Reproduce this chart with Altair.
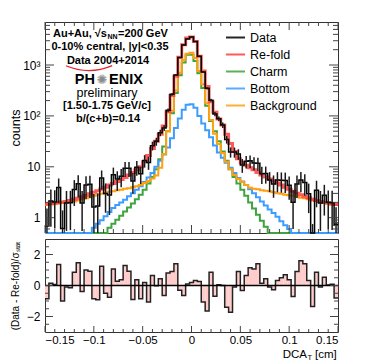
import altair as alt
import numpy as np
import pandas as pd

# ---------------- data ----------------
N_BINS = 75
X_MIN, X_MAX = -0.15, 0.15

data_counts = [0.69, 2.12, 2.03, 3.91, 0.61, 1.95, 1.97, 3.59, 4.66, 1.94,
               4.41, 4.53, 1.63, 1.70, 6.01, 2.98, 2.80, 6.99, 5.76, 6.50,
               9.37, 9.34, 5.25, 9.80, 7.28, 13.3, 12.2, 26.0, 31.6, 46.5,
               57.9, 128.8, 265, 637, 1402, 2479, 3242, 3560, 2901, 1489,
               730, 348, 203, 109, 87.5, 66.0, 34.4, 19.6, 19.5, 17.9,
               10.9, 12.8, 13.1, 11.9, 11.7, 7.3, 7.39, 5.51, 4.61, 5.49,
               5.42, 5.36, 4.33, 2.02, 4.58, 5.51, 4.90, 2.95, 0.25, 3.46,
               1.95, 2.76, 2.01, 1.97, 0.74]
data_err = [0.83, 1.46, 1.42, 1.98, 0.78, 1.40, 1.40, 1.89, 2.16, 1.39,
            2.10, 2.13, 1.28, 1.30, 2.45, 1.73, 1.67, 2.64, 2.40, 2.55,
            3.06, 3.06, 2.29, 3.13, 2.70, 3.65, 3.49, 5.10, 5.62, 6.82,
            7.61, 11.3, 16.3, 25.2, 37.4, 49.8, 56.9, 59.7, 53.9, 38.6,
            27.0, 18.7, 14.2, 10.4, 9.35, 8.12, 5.87, 4.43, 4.42, 4.23,
            3.30, 3.58, 3.62, 3.45, 3.42, 2.70, 2.72, 2.35, 2.15, 2.34,
            2.33, 2.32, 2.08, 1.42, 2.14, 2.35, 2.21, 1.72, 0.50, 1.86,
            1.40, 1.66, 1.42, 1.40, 0.86]
# log10 of the model curves (None = empty bin)
refold_log = [0.27, 0.28, 0.29, 0.30, 0.31, 0.32, 0.34, 0.36, 0.38, 0.41,
              0.44, 0.47, 0.50, 0.53, 0.56, 0.60, 0.64, 0.67, 0.71, 0.75,
              0.79, 0.84, 0.89, 0.94, 1.00, 1.10, 1.22, 1.36, 1.50, 1.64,
              1.80, 2.08, 2.40, 2.78, 3.15, 3.40, 3.53, 3.55, 3.46, 3.17,
              2.88, 2.58, 2.28, 2.07, 1.94, 1.82, 1.64, 1.46, 1.30, 1.16,
              1.08, 1.03, 0.98, 0.94, 0.89, 0.84, 0.80, 0.76, 0.72, 0.68,
              0.64, 0.60, 0.56, 0.52, 0.48, 0.45, 0.42, 0.39, 0.36, 0.34,
              0.32, 0.30, 0.29, 0.27, 0.26]
charm_log = [None] * 16 + [
    -0.20, -0.12, -0.04, 0.04, 0.12, 0.20, 0.28, 0.36, 0.45, 0.55,
    0.67, 0.80, 0.95, 1.15, 1.40, 1.70, 2.05, 2.45, 2.80, 3.05,
    3.20, 3.20, 3.08, 2.84, 2.55, 2.20, 1.90, 1.70, 1.50, 1.30,
    1.12, 0.95, 0.80, 0.67, 0.55, 0.43, 0.30, 0.18, 0.06, -0.06,
    -0.18] + [None] * 18
bottom_log = [None] * 12 + [
    -0.20, -0.12, -0.05, 0.03, 0.11, 0.19, 0.25, 0.30,
    0.35, 0.42, 0.48, 0.55, 0.62, 0.70, 0.79, 0.88, 1.00, 1.12,
    1.24, 1.38, 1.56, 1.76, 1.95, 2.12, 2.22, 2.23, 2.16, 2.00,
    1.85, 1.72, 1.58, 1.42, 1.28, 1.18, 1.08, 0.98, 0.88, 0.78,
    0.71, 0.64, 0.56, 0.48, 0.40, 0.32, 0.24, 0.16, 0.09, 0.02,
    -0.07, -0.15, -0.22] + [None] * 12
background_log = [0.25, 0.26, 0.27, 0.28, 0.29, 0.30, 0.31, 0.32, 0.34, 0.36,
                  0.38, 0.41, 0.43, 0.45, 0.47, 0.49, 0.51, 0.52, 0.54, 0.55,
                  0.57, 0.58, 0.60, 0.62, 0.64, 0.68, 0.72, 0.77, 0.83, 0.98,
                  1.25, 1.70, 2.10, 2.50, 2.85, 3.10, 3.22, 3.24, 3.14, 2.88,
                  2.62, 2.25, 1.92, 1.65, 1.45, 1.27, 1.10, 0.95, 0.84, 0.76,
                  0.70, 0.64, 0.59, 0.57, 0.56, 0.54, 0.53, 0.52, 0.50, 0.48,
                  0.47, 0.45, 0.44, 0.43, 0.41, 0.39, 0.38, 0.36, 0.34, 0.33,
                  0.31, 0.30, 0.28, 0.26, 0.25]
ratio = [-0.86, 0.15, 0.06, 1.35, -1.0, -0.1, -0.15, 0.86, 1.46, -0.39,
         1.0, 0.92, -0.86, -0.92, 1.25, -0.5, -0.75, 1.07, 0.28, 0.37,
         1.29, 0.92, -0.9, 0.37, -0.86, 0.2, -1.07, 0.65, -0.02, 0.43,
         -0.65, 0.8, 0.9, 1.4, -0.3, -0.65, 0.1, 0.2, 0.32, 0.26,
         -1.07, -1.65, 0.86, -0.7, 0.05, 0.0, -1.4, -1.72, -0.1, 0.9,
         -0.32, 0.65, 1.14, 1.07, 1.4, 0.15, 0.43, -0.1, -0.28, 0.32,
         0.5, 0.69, 0.37, -0.71, 0.9, 1.6, 1.4, 0.32, -1.35, 0.86,
         -0.1, 0.54, 0.04, 0.08, -0.8]

series_names = ["Data", "Re-fold", "Charm", "Bottom", "Background"]
series_colors = ["#000000", "#ff3c3c", "#3fa33f", "#3d9dff", "#ffa011"]

# ---------------- frames ----------------
edges = np.linspace(X_MIN, X_MAX, N_BINS + 1)
centers = 0.5 * (edges[:-1] + edges[1:])
FLOOR = 0.3  # empty bins drawn on the bottom edge (clamped)


def lin(v):
    return FLOOR if v is None else 10 ** v


def step_df(vals, name):
    v = list(vals) + [vals[-1]]
    return pd.DataFrame({"x": edges, "y": v, "series": name})


model_df = pd.concat([
    step_df([lin(v) for v in charm_log], "Charm"),
    step_df([lin(v) for v in bottom_log], "Bottom"),
    step_df([lin(v) for v in background_log], "Background"),
])
refold_df = step_df([lin(v) for v in refold_log], "Re-fold")
data_df = step_df([max(v, FLOOR) for v in data_counts], "Data")
err_df = pd.DataFrame({
    "x": centers,
    "lo": [max(d - e, FLOOR) for d, e in zip(data_counts, data_err)],
    "hi": [d + e for d, e in zip(data_counts, data_err)],
    "series": "Data",
})
ratio_bar_df = pd.DataFrame({"x": edges[:-1], "x2": edges[1:], "r": ratio})
ratio_step_df = pd.DataFrame({"x": edges, "r": ratio + [ratio[-1]]})

W, H1, H2 = 293, 211, 93
FONT = "Liberation Sans"

xscale = alt.Scale(domain=[X_MIN, X_MAX], nice=False, zero=False)
yscale = alt.Scale(type="log", domain=[0.5, 7000], nice=False, clamp=True)
rscale = alt.Scale(domain=[-3, 3], nice=False, zero=False, clamp=True)

color = alt.Color("series:N",
                  scale=alt.Scale(domain=series_names, range=series_colors),
                  legend=alt.Legend(orient="none", legendX=180, legendY=5, title=None,
                                    symbolType="stroke", symbolSize=361, symbolStrokeWidth=2,
                                    labelFontSize=12.5, labelFont=FONT, rowPadding=-1.7,
                                    labelOffset=4))

x_top_axis = None
y_top_axis = alt.Axis(values=[1, 10, 100, 1000], ticks=False, domain=False, grid=False,
                      labelExpr="datum.value >= 1000 ? '10³' : datum.value >= 100 ? '10²' : datum.value >= 10 ? '10' : '1'",
                      labelPadding=5, labelFontSize=12, title="counts", titleFontSize=12.5,
                      titleFontWeight="normal", titleFont=FONT, titleX=-23)
X = alt.X("x:Q", scale=xscale, axis=x_top_axis)

models = alt.Chart(model_df).mark_line(interpolate="step-after", strokeWidth=2).encode(
    x=X, y=alt.Y("y:Q", scale=yscale, axis=y_top_axis), color=color, detail="series:N")
refold = alt.Chart(refold_df).mark_line(interpolate="step-after", strokeWidth=3, opacity=0.85).encode(
    x=X, y=alt.Y("y:Q", scale=yscale, axis=y_top_axis), color=color)
errbars = alt.Chart(err_df).mark_rule(strokeWidth=1.5, color="#1a1a1a").encode(
    x=X, y=alt.Y("lo:Q", scale=yscale, axis=y_top_axis), y2="hi:Q")
datal = alt.Chart(data_df).mark_line(interpolate="step-after", strokeWidth=1.5).encode(
    x=X, y=alt.Y("y:Q", scale=yscale, axis=y_top_axis), color=color)

# tick marks (inward, ROOT style)
y_major = [1, 10, 100, 1000]
y_minor = [0.6, 0.7, 0.8, 0.9, 2, 3, 4, 5, 6, 7, 8, 9, 20, 30, 40, 50, 60, 70, 80, 90,
           200, 300, 400, 500, 600, 700, 800, 900, 2000, 3000, 4000, 5000, 6000]
x_major = [-0.15, -0.1, -0.05, 0.0, 0.05, 0.1, 0.15]
x_minor = [round(v, 2) for v in np.arange(-0.14, 0.15, 0.01) if abs(round(v * 100) % 5) != 0]
TICK = "#444444"


def yticks(vals, length, scale, axis):
    df = pd.DataFrame({"v": vals})
    left = alt.Chart(df).mark_rule(color=TICK, strokeWidth=1).encode(
        y=alt.Y("v:Q", scale=scale, axis=axis), x=alt.value(0), x2=alt.value(length))
    right = alt.Chart(df).mark_rule(color=TICK, strokeWidth=1).encode(
        y=alt.Y("v:Q", scale=scale, axis=axis), x=alt.value(W - length), x2=alt.value(W))
    return [left, right]


def xticks(vals, length, h, axis, top=True):
    df = pd.DataFrame({"v": vals})
    out = [alt.Chart(df).mark_rule(color=TICK, strokeWidth=1).encode(
        x=alt.X("v:Q", scale=xscale, axis=axis), y=alt.value(h - length), y2=alt.value(h))]
    if top:
        out.append(alt.Chart(df).mark_rule(color=TICK, strokeWidth=1).encode(
            x=alt.X("v:Q", scale=xscale, axis=axis), y=alt.value(0), y2=alt.value(length)))
    return out


dummy = pd.DataFrame({"a": [0]})


def txt(s, x, y, size=11, weight="bold", align="center", color="black", font=FONT):
    return alt.Chart(dummy).mark_text(text=s, fontSize=size, fontWeight=weight, align=align,
                                      baseline="middle", color=color, font=font).encode(
        x=alt.value(x), y=alt.value(y))


# PHENIX logo swoosh: a thin red arc
swoosh = alt.Chart(dummy).mark_arc(color="#e8202a", radius=60, radius2=58.8,
                                   theta=2.74, theta2=3.54).encode(
    x=alt.value(44), y=alt.value(-11))

texts = [
    txt("Au+Au, √s", 62, 12, align="right"),
    txt("NN", 62.5, 14.5, size=7, align="left"),
    txt("=200 GeV", 73, 12, align="left"),
    txt("0-10% central, |y|<0.35", 65, 25),
    txt("Data 2004+2014", 63, 38.5),
    txt("PH", 50, 58, size=14.5, align="right"),
    txt("✺", 57, 58, size=13, weight="normal", color="#8c8c8c", font="DejaVu Sans"),
    txt("ENIX", 64, 58, size=14.5, align="left"),
    txt("preliminary", 62, 70.5, size=12.5, weight="normal"),
    txt("[1.50-1.75 GeV/c]", 62, 84),
    txt("b/(c+b)=0.14", 63, 97),
]

top = alt.layer(models, refold, datal, errbars,
                *yticks(y_major, 9, yscale, y_top_axis),
                *yticks(y_minor, 5, yscale, y_top_axis),
                *xticks(x_major, 8, H1, x_top_axis),
                *xticks(x_minor, 4, H1, x_top_axis),
                swoosh, *texts).properties(width=W, height=H1)

# ---------------- ratio panel ----------------
x_bot_axis = alt.Axis(values=x_major, ticks=False, domain=False, grid=False,
                      labelExpr="format(datum.value, '~g')", labelPadding=2,
                      labelFontSize=11.5, title=None)
r_axis = alt.Axis(values=[-2, 0, 2], ticks=False, domain=False, grid=False, labelPadding=5,
                  labelFontSize=12, title="(Data - Re-fold)/σₛₜₐₜ", titleFontSize=10,
                  titleFontWeight="normal", titleFont=FONT, titleX=-25)
XB = alt.X("x:Q", scale=xscale, axis=x_bot_axis)

bars = alt.Chart(ratio_bar_df).mark_rect(color="#ffcccc").encode(
    x=XB, x2="x2:Q", y=alt.Y("r:Q", scale=rscale, axis=r_axis), y2=alt.datum(0))
outline = alt.Chart(ratio_step_df).mark_line(interpolate="step-after", color="#222222",
                                             strokeWidth=1.5).encode(
    x=XB, y=alt.Y("r:Q", scale=rscale, axis=r_axis))
zero = alt.Chart(dummy).mark_rule(color="black", strokeWidth=1.5).encode(
    y=alt.datum(0, scale=rscale, axis=r_axis))

r_major = [-2, 0, 2]
r_minor = [-2.5, -1.5, -1, -0.5, 0.5, 1, 1.5, 2.5]
bottom_texts = [
    txt("DCA", 262, 116, size=11.5, weight="normal", align="right"),
    txt("T", 262.5, 119, size=7.5, weight="normal", align="left"),
    txt("[cm]", 270, 116, size=11.5, weight="normal", align="left"),
]

bottom = alt.layer(bars, outline, zero,
                   *yticks(r_major, 8, rscale, r_axis),
                   *yticks(r_minor, 4, rscale, r_axis),
                   *xticks(x_major, 6, H2, x_bot_axis, top=False),
                   *xticks(x_minor, 3, H2, x_bot_axis, top=False),
                   *bottom_texts).properties(width=W, height=H2)

chart = alt.vconcat(top, bottom, spacing=0).resolve_legend(color="independent").properties(
    padding={"left": 0, "top": 13, "right": 0, "bottom": 0}
).configure(font=FONT).configure_view(stroke="#333333", strokeWidth=1).configure_axis(
    labelFont=FONT, labelColor="black", titleColor="black")

chart.save("out.html", embed_options={"renderer": "svg", "actions": False})
